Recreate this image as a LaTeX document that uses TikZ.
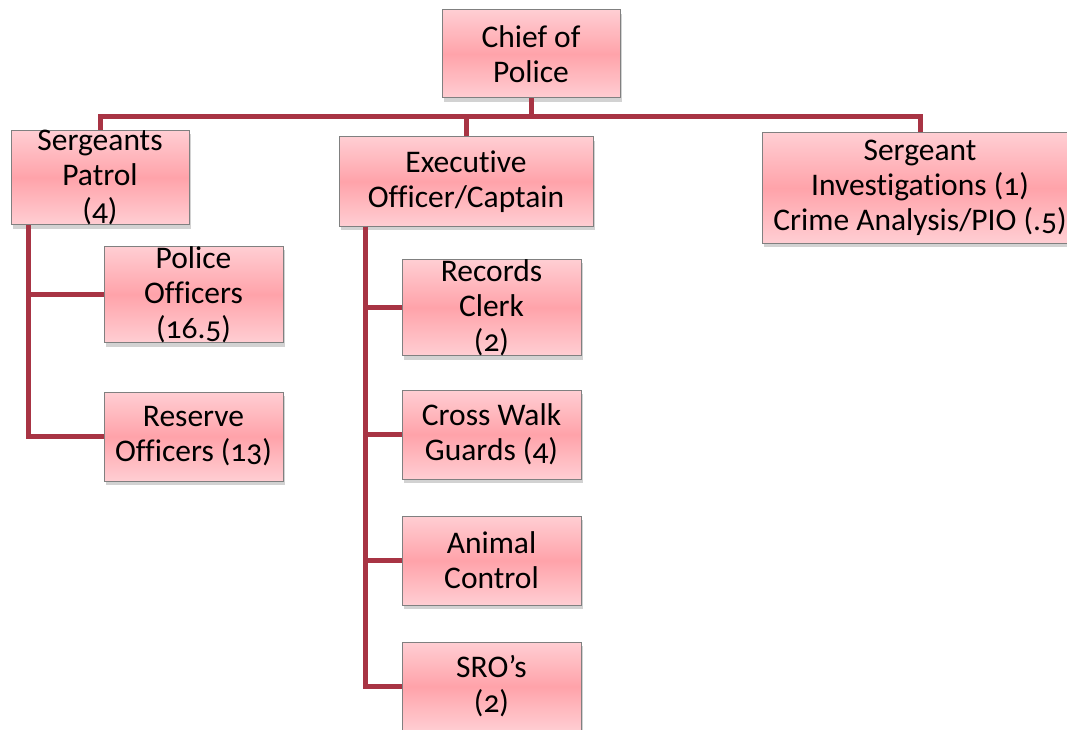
\documentclass[tikz,border=0pt]{standalone}
\usepackage{fontspec}
\setmainfont{Carlito}[Numbers=OldStyle, Ligatures=NoCommon]
\usetikzlibrary{shadows}
\definecolor{linkred}{RGB}{168,52,68}
\definecolor{boxtop}{RGB}{255,206,211}
\definecolor{boxmid}{RGB}{255,163,170}
\definecolor{boxrim}{RGB}{128,128,128}

\tikzset{
  orgbox/.style={draw=boxrim, line width=1pt, top color=boxtop, bottom color=boxtop,
    middle color=boxmid, align=center, inner sep=0pt,
    minimum width=179pt, minimum height=89pt,
    font=\fontsize{31.5}{35}\selectfont,
    drop shadow={shadow xshift=2pt, shadow yshift=-4pt, opacity=0.35}},
  link/.style={draw=linkred, line width=5pt}
}

\begin{document}
\begin{tikzpicture}[x=1pt, y=-1pt]
  \useasboundingbox (0,0) rectangle (1067,730);
  \fill[white] (0,0) rectangle (1067,730);

  \node[orgbox, minimum width=178pt, minimum height=88pt] (chief) at (531,54) {Chief of\\Police};
  \node[orgbox, minimum width=178pt] (patrol) at (100,177.5) {Sergeants\\Patrol\\(4)};
  \node[orgbox, minimum width=254pt] (exec) at (466,181.5) {Executive\\Officer/Captain};
  \node[orgbox, minimum width=316pt, minimum height=110pt] (invest) at (920,188) {Sergeant\\Investigations (1)\\Crime Analysis/PIO (.5)};

  \node[orgbox] (police) at (193.5,294.5) {Police\\Officers\\(16.5)};
  \node[orgbox] (reserve) at (193.5,436.5) {Reserve\\Officers (13)};

  \node[orgbox] (records) at (491.5,307.5) {Records\\Clerk\\(2)};
  \node[orgbox] (crosswalk) at (491.5,434.5) {Cross Walk\\Guards (4)};
  \node[orgbox] (animal) at (491.5,560.5) {Animal\\Control};
  \node[orgbox] (sro) at (491.5,686.5) {SRO’s\\(2)};

  \coordinate (bus) at (531,117);
  \coordinate (patrolstem) at ([xshift=18pt]patrol.south west);
  \coordinate (execstem) at ([xshift=27pt]exec.south west);

  \draw[link] (chief.south) -- (bus);
  \draw[link] (patrol.north) -- (patrol.north |- bus) -- (invest.north |- bus) -- (invest.north);
  \draw[link] (exec.north) -- (exec.north |- bus);
  \draw[link] (patrolstem) |- (police.west);
  \draw[link] (patrolstem) |- (reserve.west);
  \draw[link] (execstem) |- (records.west);
  \draw[link] (execstem) |- (crosswalk.west);
  \draw[link] (execstem) |- (animal.west);
  \draw[link] (execstem) |- (sro.west);
\end{tikzpicture}
\end{document}
